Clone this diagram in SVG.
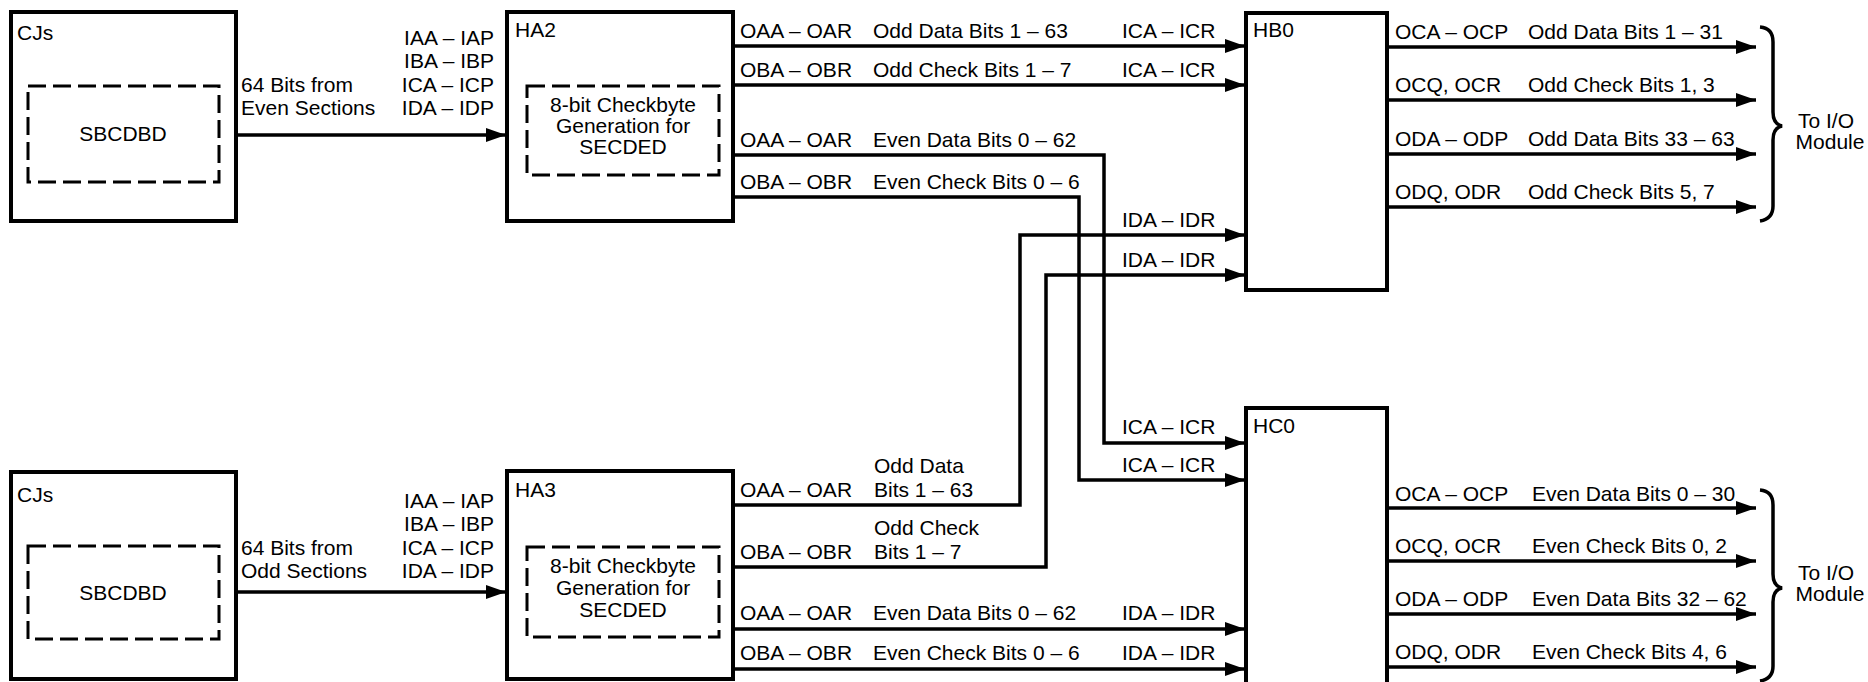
<svg xmlns="http://www.w3.org/2000/svg" width="1868" height="682" viewBox="0 0 1868 682">
<style>
text{font-family:"Liberation Sans",Arial,sans-serif;font-size:21px;fill:#000}
.box{fill:none;stroke:#000;stroke-width:4}
.dash{fill:none;stroke:#000;stroke-width:3;stroke-dasharray:18 7}
.c{fill:none;stroke:#000;stroke-width:3.5}
.br{fill:none;stroke:#000;stroke-width:3.5}
.mid{text-anchor:middle}
.end{text-anchor:end}
</style>
<defs>
<marker id="ah" markerUnits="userSpaceOnUse" markerWidth="20" markerHeight="14" refX="20" refY="7" orient="auto">
<path d="M0,0 L20,7 L0,14 z" fill="#000"/>
</marker>
</defs>

<g id="cjs-top">
<rect class="box" x="11" y="12" width="225" height="209"/>
<rect class="dash" x="28" y="86" width="191" height="96"/>
<text x="17" y="40">CJs</text>
<text class="mid" x="123" y="141">SBCDBD</text>
</g>
<g id="cjs-bottom">
<rect class="box" x="11" y="472" width="225" height="207"/>
<rect class="dash" x="28" y="546" width="191" height="93"/>
<text x="17" y="502">CJs</text>
<text class="mid" x="123" y="600">SBCDBD</text>
</g>
<g id="ha2">
<rect class="box" x="507" y="12" width="226" height="209"/>
<rect class="dash" x="527" y="86" width="192" height="89"/>
<text x="515" y="37">HA2</text>
<text class="mid" x="623" y="112">8-bit Checkbyte</text>
<text class="mid" x="623" y="133">Generation for</text>
<text class="mid" x="623" y="154">SECDED</text>
</g>
<g id="ha3">
<rect class="box" x="507" y="471" width="226" height="208"/>
<rect class="dash" x="527" y="547" width="192" height="90"/>
<text x="515" y="497">HA3</text>
<text class="mid" x="623" y="573">8-bit Checkbyte</text>
<text class="mid" x="623" y="595">Generation for</text>
<text class="mid" x="623" y="617">SECDED</text>
</g>
<g id="hb0">
<rect class="box" x="1246" y="13" width="141" height="277"/>
<text x="1253" y="37">HB0</text>
</g>
<g id="hc0">
<rect class="box" x="1246" y="408" width="141" height="290"/>
<text x="1253" y="433">HC0</text>
</g>

<g id="connectors">
<path class="c" d="M236,135 H506" marker-end="url(#ah)"/>
<path class="c" d="M236,592 H506" marker-end="url(#ah)"/>
<path class="c" d="M733,46 H1245" marker-end="url(#ah)"/>
<path class="c" d="M733,85 H1245" marker-end="url(#ah)"/>
<path class="c" d="M733,155 H1104 V443 H1245" marker-end="url(#ah)"/>
<path class="c" d="M733,197 H1079 V480 H1245" marker-end="url(#ah)"/>
<path class="c" d="M733,505 H1020 V235 H1245" marker-end="url(#ah)"/>
<path class="c" d="M733,567 H1046 V275 H1245" marker-end="url(#ah)"/>
<path class="c" d="M733,629 H1245" marker-end="url(#ah)"/>
<path class="c" d="M733,669 H1245" marker-end="url(#ah)"/>
<path class="c" d="M1387,47 H1756" marker-end="url(#ah)"/>
<path class="c" d="M1387,100 H1756" marker-end="url(#ah)"/>
<path class="c" d="M1387,154 H1756" marker-end="url(#ah)"/>
<path class="c" d="M1387,207 H1756" marker-end="url(#ah)"/>
<path class="c" d="M1387,508 H1756" marker-end="url(#ah)"/>
<path class="c" d="M1387,561 H1756" marker-end="url(#ah)"/>
<path class="c" d="M1387,614 H1756" marker-end="url(#ah)"/>
<path class="c" d="M1387,667 H1756" marker-end="url(#ah)"/>
</g>

<g id="braces">
<path class="br" d="M1760,27 Q1773,28 1773,42 V112 Q1773,124 1782,126 Q1773,128 1773,140 V206 Q1773,219 1760,221"/>
<path class="br" d="M1760,490 Q1773,491 1773,505 V574 Q1773,586 1782,588 Q1773,590 1773,602 V666 Q1773,679 1760,681"/>
</g>

<g id="labels">
<text class="end" x="494" y="45">IAA – IAP</text>
<text class="end" x="494" y="68">IBA – IBP</text>
<text class="end" x="494" y="92">ICA – ICP</text>
<text class="end" x="494" y="115">IDA – IDP</text>
<text x="241" y="92">64 Bits from</text>
<text x="241" y="115">Even Sections</text>
<text class="end" x="494" y="508">IAA – IAP</text>
<text class="end" x="494" y="531">IBA – IBP</text>
<text class="end" x="494" y="555">ICA – ICP</text>
<text class="end" x="494" y="578">IDA – IDP</text>
<text x="241" y="555">64 Bits from</text>
<text x="241" y="578">Odd Sections</text>

<text x="740" y="38">OAA – OAR</text><text x="873" y="38">Odd Data Bits 1 – 63</text><text x="1122" y="38">ICA – ICR</text>
<text x="740" y="77">OBA – OBR</text><text x="873" y="77">Odd Check Bits 1 – 7</text><text x="1122" y="77">ICA – ICR</text>
<text x="740" y="147">OAA – OAR</text><text x="873" y="147">Even Data Bits 0 – 62</text>
<text x="740" y="189">OBA – OBR</text><text x="873" y="189">Even Check Bits 0 – 6</text>
<text x="1122" y="227">IDA – IDR</text>
<text x="1122" y="267">IDA – IDR</text>
<text x="1122" y="434">ICA – ICR</text>
<text x="1122" y="472">ICA – ICR</text>

<text x="874" y="473">Odd Data</text>
<text x="740" y="497">OAA – OAR</text><text x="874" y="497">Bits 1 – 63</text>
<text x="874" y="535">Odd Check</text>
<text x="740" y="559">OBA – OBR</text><text x="874" y="559">Bits 1 – 7</text>
<text x="740" y="620">OAA – OAR</text><text x="873" y="620">Even Data Bits 0 – 62</text><text x="1122" y="620">IDA – IDR</text>
<text x="740" y="660">OBA – OBR</text><text x="873" y="660">Even Check Bits 0 – 6</text><text x="1122" y="660">IDA – IDR</text>

<text x="1395" y="39">OCA – OCP</text><text x="1528" y="39">Odd Data Bits 1 – 31</text>
<text x="1395" y="92">OCQ, OCR</text><text x="1528" y="92">Odd Check Bits 1, 3</text>
<text x="1395" y="146">ODA – ODP</text><text x="1528" y="146">Odd Data Bits 33 – 63</text>
<text x="1395" y="199">ODQ, ODR</text><text x="1528" y="199">Odd Check Bits 5, 7</text>
<text class="mid" x="1826" y="128">To I/O</text>
<text class="mid" x="1830" y="149">Module</text>

<text x="1395" y="501">OCA – OCP</text><text x="1532" y="501">Even Data Bits 0 – 30</text>
<text x="1395" y="553">OCQ, OCR</text><text x="1532" y="553">Even Check Bits 0, 2</text>
<text x="1395" y="606">ODA – ODP</text><text x="1532" y="606">Even Data Bits 32 – 62</text>
<text x="1395" y="659">ODQ, ODR</text><text x="1532" y="659">Even Check Bits 4, 6</text>
<text class="mid" x="1826" y="580">To I/O</text>
<text class="mid" x="1830" y="601">Module</text>
</g>
</svg>
